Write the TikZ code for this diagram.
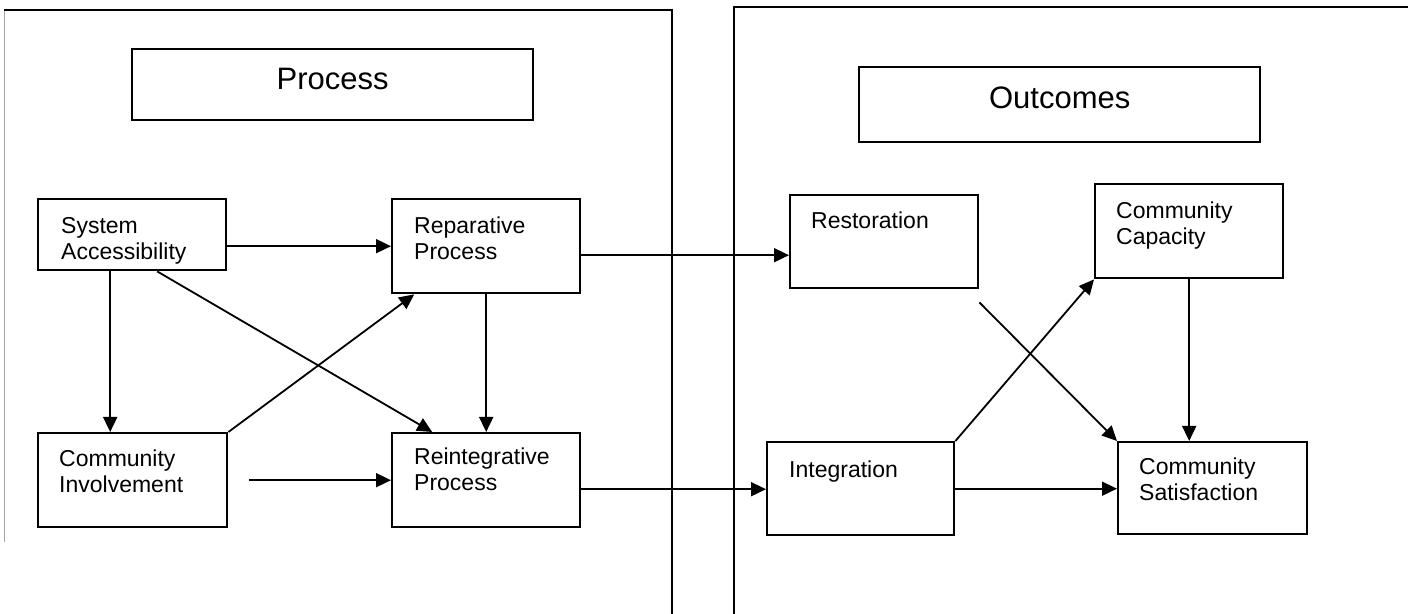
\documentclass[tikz,border=0pt]{standalone}
\usepackage{fontspec}
\setmainfont{Liberation Sans}
\usetikzlibrary{arrows.meta}

\begin{document}
\begin{tikzpicture}[
    x=0.5pt, y=-0.5pt,
    >={Triangle[length=7.5pt,width=7pt]},
    font=\fontsize{11.5}{13}\selectfont,
    panel/.style={line width=1.3pt},
    head/.style={draw, line width=1.2pt, anchor=north west, minimum width=200.5pt, inner ysep=0pt, font=\fontsize{15.5}{18}\selectfont},
    blk/.style={draw, line width=1.2pt, anchor=north west, align=left, inner ysep=0pt},
    link/.style={->, line width=0.9pt}
  ]
    \useasboundingbox (0,0) rectangle (1408,614);

    % the two panels
    \draw[gray!70, line width=0.5pt] (4,10) -- (4,542);
    \draw[panel] (4,10) -- (672,10) -- (672,614);
    \draw[panel] (1408,7) -- (734,7) -- (734,614);

    \node[head, text height=20pt, text depth=15.5pt] (proc) at (131,48) {Process};
    \node[head, text height=20.5pt, text depth=17pt] (outc) at (858,66) {Outcomes};

    % process side
    \node[blk, inner xsep=11.5pt, text width=71pt, text height=17pt, text depth=18.5pt] (sys) at (37,198) {System\\Accessibility};
    \node[blk, inner xsep=11pt, text width=72pt, text height=17pt, text depth=30pt] (rep) at (391,198) {Reparative\\Process};
    \node[blk, inner xsep=10.5pt, text width=73.5pt, text height=16.5pt, text depth=30.5pt] (ci) at (37,432) {Community\\Involvement};
    \node[blk, inner xsep=11pt, text width=72pt, text height=15.5pt, text depth=31.5pt] (reint) at (391,432) {Reintegrative\\Process};

    % outcome side
    \node[blk, inner xsep=10.5pt, text width=73pt, text height=16.5pt, text depth=30pt] (rest) at (789,194) {Restoration};
    \node[blk, inner xsep=10.5pt, text width=73pt, text height=17pt, text depth=30pt] (cap) at (1094,183) {Community\\Capacity};
    \node[blk, inner xsep=11pt, text width=71.5pt, text height=17.5pt, text depth=29pt] (integ) at (766,441) {Integration};
    \node[blk, inner xsep=10.5pt, text width=73.5pt, text height=16pt, text depth=30pt] (sat) at (1117,441) {Community\\Satisfaction};

    \draw[link] (sys.east |- rep.west) -- (rep.west);
    \draw[link] ([xshift=-11pt]sys.south) -- ([xshift=-11pt]sys.south |- ci.north);
    \draw[link] ([xshift=12.5pt]sys.south) -- ([xshift=-27pt]reint.north);
    \draw[link] (ci.north east) -- ([xshift=-36pt]rep.south);
    \draw[link] ([xshift=10.5pt]ci.east) -- (reint.west);
    \draw[link] (rep.south) -- (reint.north);
    \draw[link] ([yshift=-4.5pt]rep.east) -- ([yshift=-4.5pt]rep.east -| rest.west);
    \draw[link] ([yshift=-4.5pt]reint.east) -- ([yshift=-4.5pt]reint.east -| integ.west);

    \draw[link] (integ.east) -- (integ.east -| sat.west);
    \draw[link] (integ.north east) -- (cap.south west);
    \draw[link] ([yshift=-6.5pt]rest.south east) -- (sat.north west);
    \draw[link] (cap.south) -- (cap.south |- sat.north);
\end{tikzpicture}
\end{document}
